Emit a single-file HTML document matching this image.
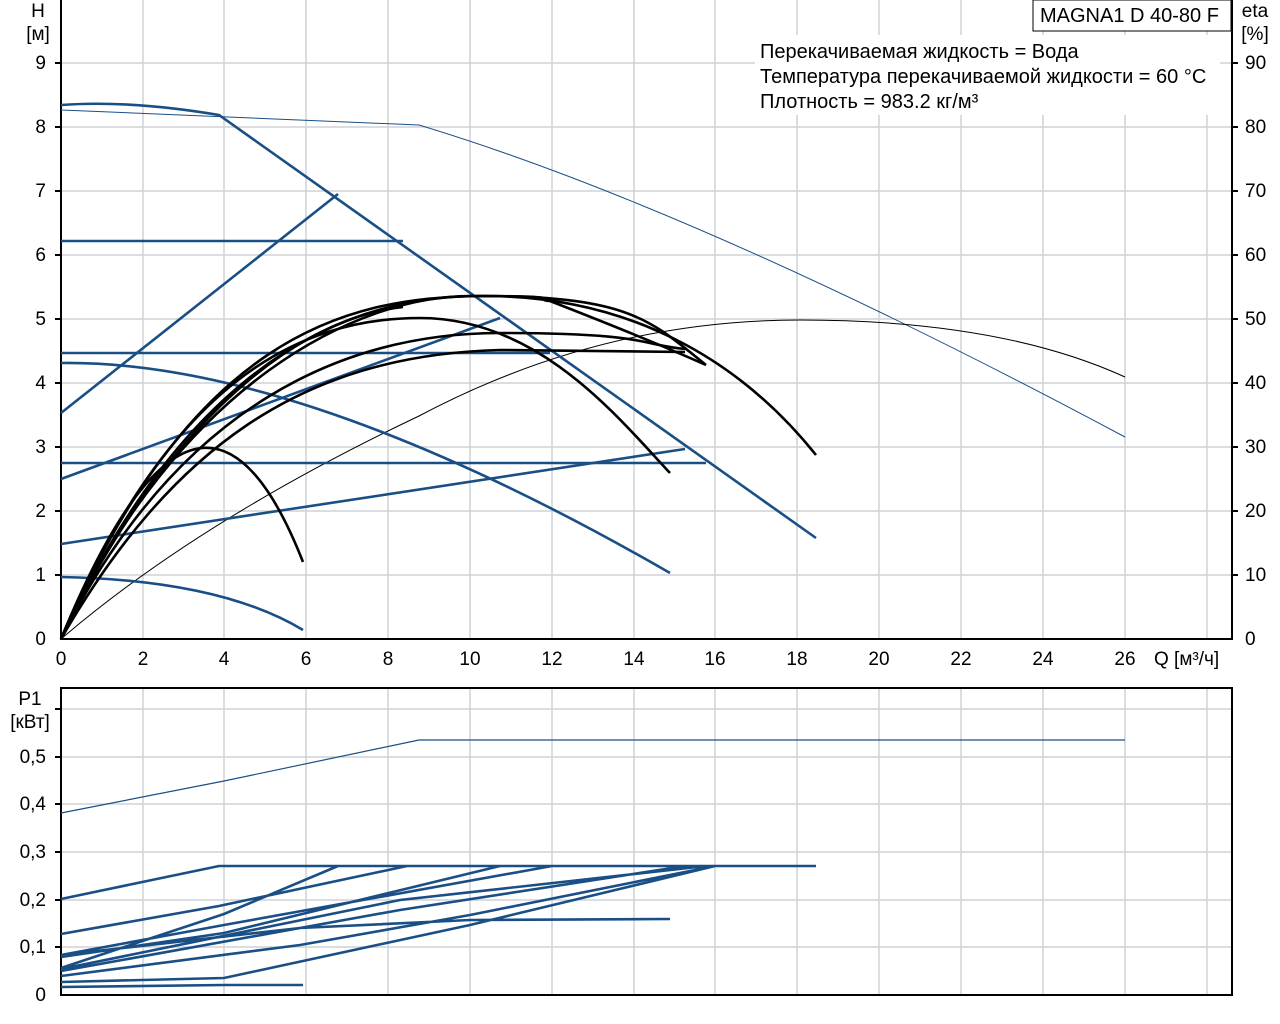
<!DOCTYPE html>
<html><head><meta charset="utf-8"><style>
body{margin:0;background:#fff;width:1280px;height:1024px;overflow:hidden}
svg{display:block;font-family:"Liberation Sans",sans-serif;font-size:19px}
</style></head><body>
<svg width="1280" height="1024" viewBox="0 0 1280 1024">
<g stroke="#d0d2d5" stroke-width="1.5">
<path d="M143 0V639M224 0V639M306 0V639M388 0V639M470 0V639M552 0V639M634 0V639M715 0V639M797 0V639M879 0V639M961 0V639M1043 0V639M1125 0V639M1207 0V639"/>
<path d="M61 575H1232M61 511H1232M61 447H1232M61 383H1232M61 319H1232M61 255H1232M61 191H1232M61 127H1232M61 63H1232"/>
<path d="M143 688V995M224 688V995M306 688V995M388 688V995M470 688V995M552 688V995M634 688V995M715 688V995M797 688V995M879 688V995M961 688V995M1043 688V995M1125 688V995M1207 688V995"/>
<path d="M61 947H1232M61 900H1232M61 852H1232M61 804H1232M61 757H1232M61 709H1232"/>
</g>
<rect x="755" y="35" width="465" height="80" fill="#fff"/>
<rect x="1033" y="0" width="198" height="31" fill="#fff" stroke="#000" stroke-width="1"/>
<g font-size="20">
<text x="1040" y="22">MAGNA1 D 40-80 F</text>
<text x="760" y="58">Перекачиваемая жидкость = Вода</text>
<text x="760" y="83">Температура перекачиваемой жидкости = 60 °C</text>
<text x="760" y="108">Плотность = 983.2 кг/м³</text>
</g>
<g stroke="#000" stroke-width="2" fill="none">
<path d="M61 0V639H1232V0"/>
<path d="M61 688H1232V995H61Z"/>
<path d="M55 575H61M55 511H61M55 447H61M55 383H61M55 319H61M55 255H61M55 191H61M55 127H61M55 63H61"/>
<path d="M1232 575H1238M1232 511H1238M1232 447H1238M1232 383H1238M1232 319H1238M1232 255H1238M1232 191H1238M1232 127H1238M1232 63H1238"/>
<path d="M55 947H61M55 900H61M55 852H61M55 804H61M55 757H61M55 709H61"/>
</g>
<g text-anchor="end">
<text x="46" y="645">0</text><text x="46" y="581">1</text><text x="46" y="517">2</text><text x="46" y="453">3</text><text x="46" y="389">4</text><text x="46" y="325">5</text><text x="46" y="261">6</text><text x="46" y="197">7</text><text x="46" y="133">8</text><text x="46" y="69">9</text>
<text x="46" y="1001">0</text><text x="46" y="953">0,1</text><text x="46" y="906">0,2</text><text x="46" y="858">0,3</text><text x="46" y="810">0,4</text><text x="46" y="763">0,5</text>
</g>
<text x="38" y="17" text-anchor="middle">H</text><text x="38" y="40" text-anchor="middle">[м]</text>
<text x="30" y="705" text-anchor="middle">P1</text><text x="30" y="728" text-anchor="middle">[кВт]</text>
<text x="1255" y="17" text-anchor="middle">eta</text><text x="1255" y="40" text-anchor="middle">[%]</text>
<g>
<text x="1245" y="645">0</text><text x="1245" y="581">10</text><text x="1245" y="517">20</text><text x="1245" y="453">30</text><text x="1245" y="389">40</text><text x="1245" y="325">50</text><text x="1245" y="261">60</text><text x="1245" y="197">70</text><text x="1245" y="133">80</text><text x="1245" y="69">90</text>
</g>
<g text-anchor="middle">
<text x="61" y="665">0</text><text x="143" y="665">2</text><text x="224" y="665">4</text><text x="306" y="665">6</text><text x="388" y="665">8</text><text x="470" y="665">10</text><text x="552" y="665">12</text><text x="634" y="665">14</text><text x="715" y="665">16</text><text x="797" y="665">18</text><text x="879" y="665">20</text><text x="961" y="665">22</text><text x="1043" y="665">24</text><text x="1125" y="665">26</text>
</g>
<text x="1154" y="665">Q [м³/ч]</text>
<g fill="none" stroke="#1a4f86">
<path d="M61 110L419 125Q700 210 1125 437" stroke-width="1"/>
<path d="M61 813L224 781L419 740L1125 740" stroke-width="1.2"/>
</g>
<path d="M61 639Q200 520 419 416Q600 320 800 320Q1000 320 1125 377" fill="none" stroke="#000" stroke-width="1"/>
<g fill="none" stroke="#1a4f86" stroke-width="2.6">
<path d="M61 105Q130 100 219 115L816 538"/>
<path d="M61 241H403M61 353H550M61 463H706"/>
<path d="M61 413L338 194M61 479L500 318M61 544L685 449"/>
<path d="M61 363Q300 360 670 573"/>
<path d="M61 577Q220 580 303 630"/>
<path d="M61 899L219 866H816M61 934L219 906L407 866M61 968L224 914L338 866M61 957L224 933L500 866M61 955L224 925L552 866M61 969L400 900L706 866M61 971L400 910L685 866M61 955L300 928L470 920L670 919M61 976L300 945L470 915L715 866M61 982L224 978L470 925L715 866M61 987L224 985L303 985"/>
</g>
<g fill="none" stroke="#000" stroke-width="2.6">
<path d="M61 639Q200 300 303 562"/>
<path d="M61 639C170 380 300 318 420 318S620 420 670 473"/>
<path d="M61 639C190 340 340 296 485 296S740 360 816 455"/>
<path d="M61 639C180 380 330 296 480 296S650 320 706 365"/>
<path d="M61 639C180 400 350 333 500 333S640 345 685 349"/>
<path d="M61 639C180 380 360 296 470 296S530 300 550 301Q650 340 706 365"/>
<path d="M61 639C150 450 280 320 403 307"/>
<path d="M61 639C170 450 300 355 500 350L685 352"/>
</g>
</svg>
</body></html>
